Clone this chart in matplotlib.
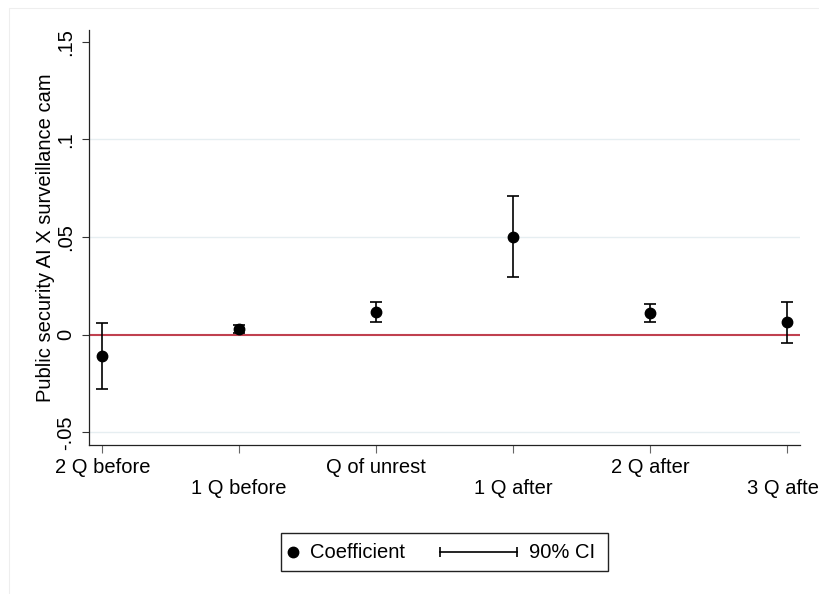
import matplotlib
matplotlib.use("Agg")
import matplotlib.pyplot as plt
from matplotlib.patches import Rectangle
from matplotlib.lines import Line2D

plt.rcParams['font.family'] = ['Liberation Sans', 'DejaVu Sans']

# ---- data ----
categories = ["2 Q before", "1 Q before", "Q of unrest", "1 Q after", "2 Q after", "3 Q after"]
coef = [-0.011, 0.003, 0.0115, 0.0502, 0.011, 0.0063]
ci_low = [-0.0278, 0.0010, 0.0063, 0.0295, 0.0065, -0.0041]
ci_high = [0.0060, 0.0050, 0.0166, 0.0710, 0.0155, 0.0169]
yticks = [-0.05, 0, 0.05, 0.1, 0.15]
yticklabels = ["-.05", "0", ".05", ".1", ".15"]
ylabel = "Public security AI X surveillance cam"
legend_labels = ["Coefficient", "90% CI"]

W, H = 820, 594
fig = plt.figure(figsize=(W / 100, H / 100), dpi=100)
fig.patch.set_facecolor('white')

# faint outer frame
fig.add_artist(Rectangle((9 / W, -0.1), 1.2, (H - 8) / H + 0.1, transform=fig.transFigure,
                         fill=False, edgecolor='#EEEEEE', linewidth=0.8))

ax = fig.add_axes([89 / W, (H - 445) / H, (800 - 89) / W, (445 - 30) / H])

x = list(range(len(categories)))
lower_err = [c - l for c, l in zip(coef, ci_low)]
upper_err = [h - c for c, h in zip(coef, ci_high)]

for yv in [-0.05, 0.05, 0.1]:
    ax.axhline(yv, color='#E6EEF1', linewidth=1.0, zorder=1)
ax.axhline(0, color='#C0404F', linewidth=1.5, zorder=2)

ax.errorbar(x, coef, yerr=[lower_err, upper_err], fmt='none', ecolor='black',
            elinewidth=1.2, capsize=4.5, capthick=1.2, zorder=3)
ax.plot(x, coef, 'o', color='black', markersize=7.5, zorder=4)

ax.set_xlim(-0.097, 5.097)
ax.set_ylim(-0.0565, 0.156)

ax.set_yticks(yticks)
ax.set_yticklabels(yticklabels, rotation=90, va='center', fontsize=14.5)
ax.set_xticks(x)
ax.set_xticklabels([c if i % 2 == 0 else "\n" + c for i, c in enumerate(categories)],
                   fontsize=14.5, linespacing=1.1)
ax.tick_params(axis='y', length=5, width=0.8, pad=5, color='#333333')
ax.tick_params(axis='x', length=5.5, width=0.8, pad=4, color='#666666')
ax.set_ylabel(ylabel, fontsize=14.5, labelpad=1)

for s in ['top', 'right']:
    ax.spines[s].set_visible(False)
for s in ['left', 'bottom']:
    ax.spines[s].set_linewidth(0.9)
    ax.spines[s].set_color('#222222')
ax.set_facecolor('white')

# ---- legend (manual box, centred below the plot) ----
lx0, lx1, ly0, ly1 = 281 / W, 608 / W, 1 - 571 / H, 1 - 533 / H
fig.add_artist(Rectangle((lx0, ly0), lx1 - lx0, ly1 - ly0, transform=fig.transFigure,
                         fill=False, edgecolor='#222222', linewidth=1.0))
ymid = (ly0 + ly1) / 2
fig.add_artist(Line2D([293 / W], [ymid], marker='o', color='black', markersize=7.5,
                      transform=fig.transFigure))
fig.text(310 / W, ymid, legend_labels[0], fontsize=14.5, va='center', ha='left')
fig.add_artist(Line2D([440 / W, 517 / W], [ymid, ymid], color='black', linewidth=1.2,
                      marker='|', markersize=7, markeredgewidth=1.2,
                      transform=fig.transFigure))
fig.text(529 / W, ymid, legend_labels[1], fontsize=14.5, va='center', ha='left')

fig.savefig("out.png", dpi=100, facecolor='white')
